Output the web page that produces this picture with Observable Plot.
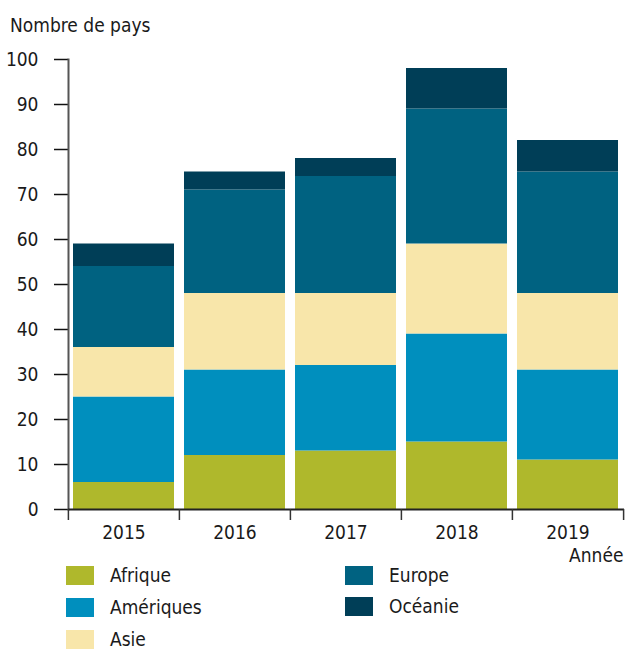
<!DOCTYPE html>
<html><head><meta charset="utf-8">
<script src="https://cdn.jsdelivr.net/npm/d3@7"></script>
<script src="https://cdn.jsdelivr.net/npm/@observablehq/plot@0.6"></script>
<style>
body{margin:0;background:#fff;font-family:"DejaVu Sans Condensed","Liberation Sans Narrow",sans-serif;font-stretch:condensed;color:#1a1a1a;}
#wrap{position:relative;width:625px;height:649px;overflow:hidden;}
#title{position:absolute;left:10px;top:14px;font-size:19px;line-height:22px;z-index:2;}
.lg{position:absolute;display:flex;align-items:center;font-size:19px;line-height:19px;height:19px;z-index:2;}
.sw{width:28px;height:19px;margin-right:16px;flex:none;}
svg text{font-family:"DejaVu Sans Condensed","Liberation Sans Narrow",sans-serif;}
</style></head>
<body><div id="wrap"><div id="title">Nombre de pays</div></div>
<script>
const years = ["2015","2016","2017","2018","2019"];
const regions = ["Afrique","Amériques","Asie","Europe","Océanie"];
const colors = ["#afb82c","#008fbe","#f8e6aa","#006281","#003e57"];
const afrique = [6,12,13,15,11];
const ameriques = [19,19,19,24,20];
const asie = [11,17,16,20,17];
const europe = [18,23,26,30,27];
const oceanie = [5,4,4,9,7];
const yTicks = [0,10,20,30,40,50,60,70,80,90,100];

const series = [afrique, ameriques, asie, europe, oceanie];
const data = [];
regions.forEach((r,i)=>years.forEach((y,j)=>data.push({year:y, region:r, value:series[i][j]})));

const W=625, H=570, mL=68, mR=1, mT=59, mB=61;
const step=(W-mL-mR)/years.length;
const chart = Plot.plot({
  width:W, height:H, marginLeft:mL, marginRight:mR, marginTop:mT, marginBottom:mB,
  style:{fontSize:"19px", color:"#1a1a1a", background:"transparent"},
  x:{domain:years, paddingInner:0.09, paddingOuter:0.045, axis:null},
  y:{domain:[0,100], axis:null},
  color:{domain:regions, range:colors},
  marks:[
    Plot.barY(data,{x:"year", y:"value", fill:"region", order:regions}),
    Plot.axisY({ticks:yTicks, tickSize:14, tickPadding:16, tickFormat:d=>String(d), fontSize:19, stroke:"#111", strokeWidth:1.5, label:null}),
    Plot.axisX({tickSize:0, tickPadding:16, fontSize:19, label:null}),
    Plot.frame({anchor:"left", stroke:"#555", strokeWidth:2}),
    Plot.ruleY([0],{stroke:"#222", strokeWidth:2}),
    Plot.ruleX(years,{x:d=>d, dx:-step/2, insetTop:H-mT-mB, insetBottom:-11, stroke:"#333", strokeWidth:1.5}),
    Plot.ruleX([years[years.length-1]],{x:d=>d, dx:step/2, insetTop:H-mT-mB, insetBottom:-11, stroke:"#333", strokeWidth:1.5}),
    Plot.text(["Année"],{frameAnchor:"bottom-right", dx:-1, dy:52, text:d=>d, textAnchor:"end", fontSize:19})
  ]
});
const wrap=document.getElementById("wrap");
chart.style.position="absolute"; chart.style.left="0"; chart.style.top="0"; chart.style.zIndex="1";
wrap.appendChild(chart);

const pos=[[66,566],[66,598],[66,630],[345,566],[345,597]];
regions.forEach((r,i)=>{
  const d=document.createElement("div");
  d.className="lg"; d.style.left=pos[i][0]+"px"; d.style.top=pos[i][1]+"px";
  d.innerHTML=`<div class="sw" style="background:${colors[i]}"></div><span>${r}</span>`;
  wrap.appendChild(d);
});
</script></body></html>
